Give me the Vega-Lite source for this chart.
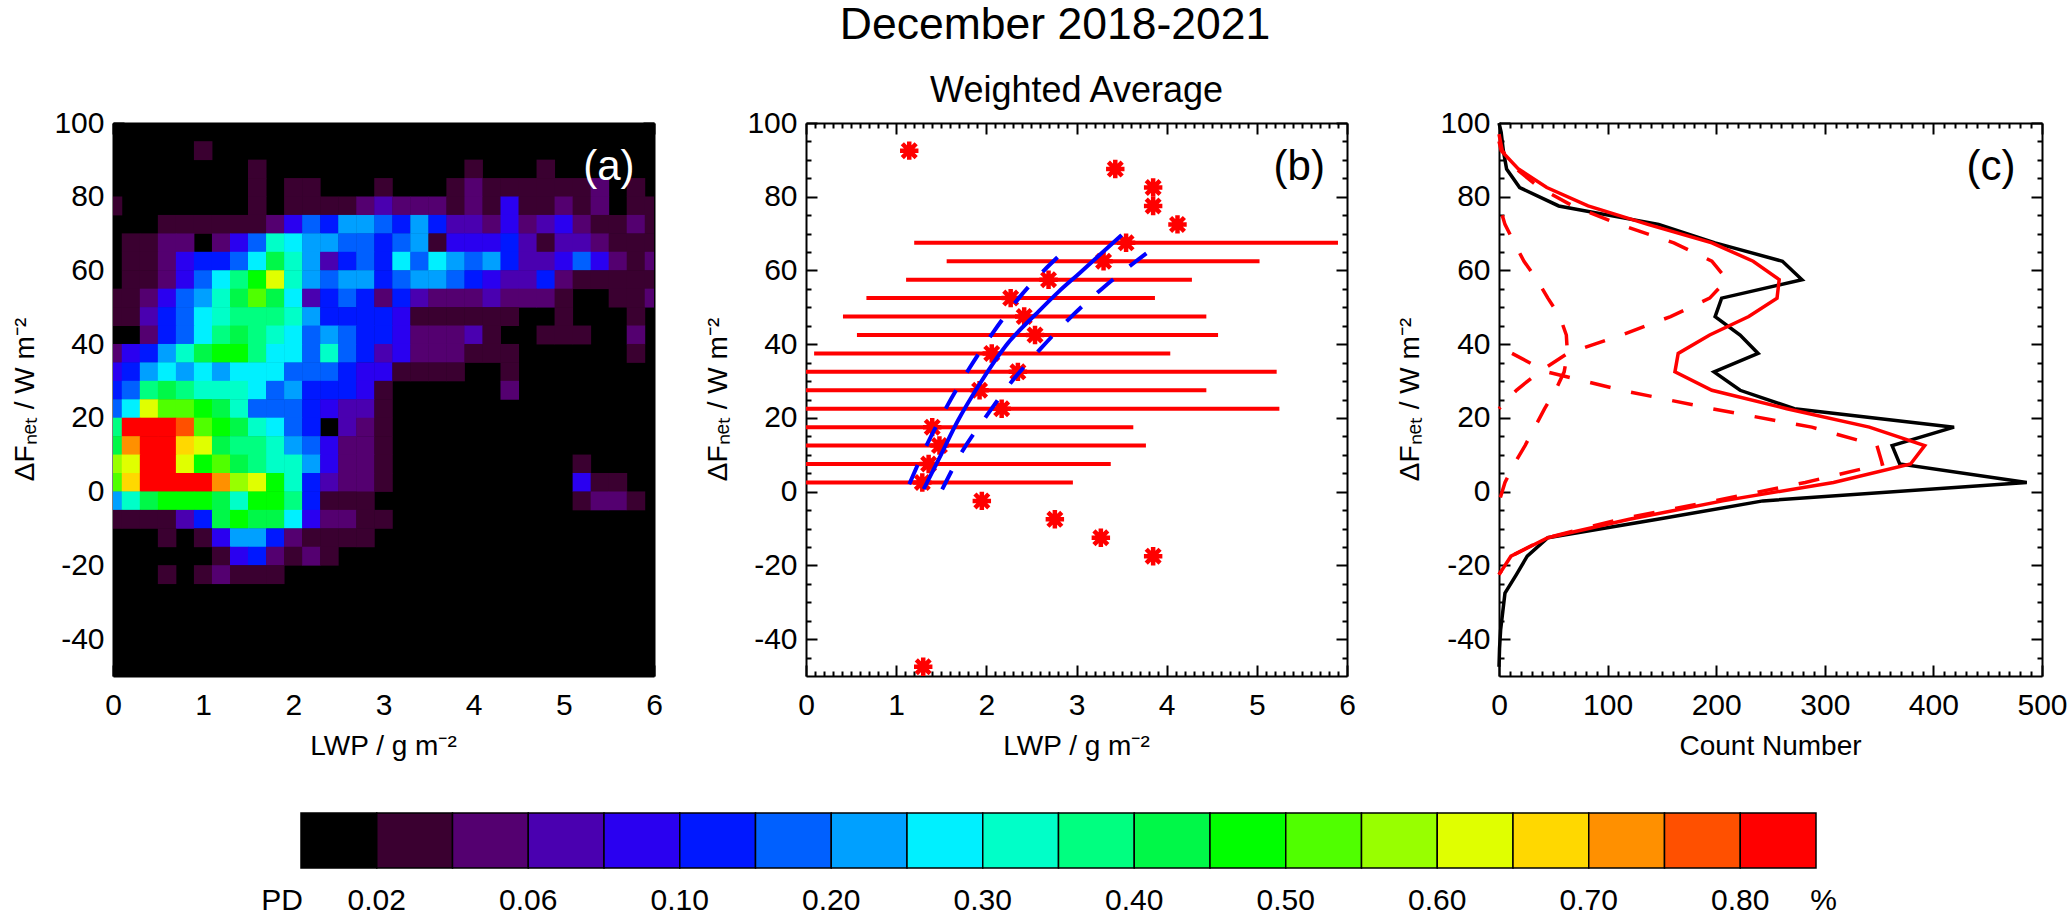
{"$schema":"https://vega.github.io/schema/vega-lite/v6.json","background":"white","padding":{"left":11,"top":2,"right":0,"bottom":47},"bounds":"flush","spacing":690,
"title":{"text":"December 2018-2021","anchor":"middle","dx":16,"offset":25,"font":"Liberation Sans","fontSize":44.5,"fontWeight":"normal","color":"black"},
"config":{"view":{"stroke":null},"font":"Liberation Sans","axis":{"labelFont":"Liberation Sans","titleFont":"Liberation Sans","labelFontSize":30,"titleFontSize":28,"titleFontWeight":"normal","labelColor":"black","titleColor":"black","domainColor":"black","domainWidth":2,"tickColor":"black","tickWidth":2,"grid":false,"zindex":1,"labelOverlap":false,"labelFlush":false,"titleBaseline":"alphabetic"}},
"datasets":{
"cells":[
{"x":1,"y":92.5,"l":1},
{"x":1.6,"y":87.5,"l":1},{"x":4,"y":87.5,"l":1},{"x":4.8,"y":87.5,"l":1},
{"x":1.6,"y":82.5,"l":1},{"x":2,"y":82.5,"l":1},{"x":2.2,"y":82.5,"l":1},{"x":3,"y":82.5,"l":1},{"x":3.8,"y":82.5,"l":1},{"x":4,"y":82.5,"l":2},{"x":4.2,"y":82.5,"l":1},{"x":4.4,"y":82.5,"l":1},{"x":4.6,"y":82.5,"l":1},{"x":4.8,"y":82.5,"l":1},{"x":5,"y":82.5,"l":1},{"x":5.2,"y":82.5,"l":1},{"x":5.4,"y":82.5,"l":2},{"x":5.8,"y":82.5,"l":1},
{"x":0,"y":77.5,"l":1},{"x":1.6,"y":77.5,"l":1},{"x":2,"y":77.5,"l":1},{"x":2.2,"y":77.5,"l":1},{"x":2.4,"y":77.5,"l":1},{"x":2.6,"y":77.5,"l":1},{"x":2.8,"y":77.5,"l":2},{"x":3,"y":77.5,"l":3},{"x":3.2,"y":77.5,"l":2},{"x":3.4,"y":77.5,"l":2},{"x":3.6,"y":77.5,"l":2},{"x":3.8,"y":77.5,"l":1},{"x":4,"y":77.5,"l":2},{"x":4.2,"y":77.5,"l":1},{"x":4.4,"y":77.5,"l":4},{"x":4.6,"y":77.5,"l":1},{"x":4.8,"y":77.5,"l":1},{"x":5,"y":77.5,"l":2},{"x":5.2,"y":77.5,"l":1},{"x":5.4,"y":77.5,"l":2},{"x":5.8,"y":77.5,"l":1},{"x":6,"y":77.5,"l":1},
{"x":0.6,"y":72.5,"l":1},{"x":0.8,"y":72.5,"l":1},{"x":1,"y":72.5,"l":1},{"x":1.2,"y":72.5,"l":1},{"x":1.4,"y":72.5,"l":1},{"x":1.6,"y":72.5,"l":1},{"x":1.8,"y":72.5,"l":2},{"x":2,"y":72.5,"l":4},{"x":2.2,"y":72.5,"l":6},{"x":2.4,"y":72.5,"l":5},{"x":2.6,"y":72.5,"l":7},{"x":2.8,"y":72.5,"l":7},{"x":3,"y":72.5,"l":6},{"x":3.2,"y":72.5,"l":5},{"x":3.4,"y":72.5,"l":7},{"x":3.6,"y":72.5,"l":5},{"x":3.8,"y":72.5,"l":3},{"x":4,"y":72.5,"l":3},{"x":4.2,"y":72.5,"l":2},{"x":4.4,"y":72.5,"l":4},{"x":4.6,"y":72.5,"l":2},{"x":4.8,"y":72.5,"l":3},{"x":5,"y":72.5,"l":4},{"x":5.2,"y":72.5,"l":2},{"x":5.4,"y":72.5,"l":1},{"x":5.6,"y":72.5,"l":1},{"x":5.8,"y":72.5,"l":2},{"x":6,"y":72.5,"l":1},
{"x":0.2,"y":67.5,"l":1},{"x":0.4,"y":67.5,"l":1},{"x":0.6,"y":67.5,"l":2},{"x":0.8,"y":67.5,"l":2},{"x":1.2,"y":67.5,"l":2},{"x":1.4,"y":67.5,"l":4},{"x":1.6,"y":67.5,"l":6},{"x":1.8,"y":67.5,"l":9},{"x":2,"y":67.5,"l":8},{"x":2.2,"y":67.5,"l":7},{"x":2.4,"y":67.5,"l":7},{"x":2.6,"y":67.5,"l":6},{"x":2.8,"y":67.5,"l":6},{"x":3,"y":67.5,"l":5},{"x":3.2,"y":67.5,"l":6},{"x":3.4,"y":67.5,"l":7},{"x":3.6,"y":67.5,"l":1},{"x":3.8,"y":67.5,"l":4},{"x":4,"y":67.5,"l":4},{"x":4.2,"y":67.5,"l":4},{"x":4.4,"y":67.5,"l":5},{"x":4.6,"y":67.5,"l":3},{"x":4.8,"y":67.5,"l":1},{"x":5,"y":67.5,"l":3},{"x":5.2,"y":67.5,"l":3},{"x":5.4,"y":67.5,"l":2},{"x":5.6,"y":67.5,"l":1},{"x":5.8,"y":67.5,"l":1},{"x":6,"y":67.5,"l":1},
{"x":0.2,"y":62.5,"l":1},{"x":0.4,"y":62.5,"l":1},{"x":0.6,"y":62.5,"l":2},{"x":0.8,"y":62.5,"l":4},{"x":1,"y":62.5,"l":5},{"x":1.2,"y":62.5,"l":5},{"x":1.4,"y":62.5,"l":6},{"x":1.6,"y":62.5,"l":8},{"x":1.8,"y":62.5,"l":11},{"x":2,"y":62.5,"l":9},{"x":2.2,"y":62.5,"l":7},{"x":2.4,"y":62.5,"l":3},{"x":2.6,"y":62.5,"l":5},{"x":2.8,"y":62.5,"l":6},{"x":3,"y":62.5,"l":5},{"x":3.2,"y":62.5,"l":8},{"x":3.4,"y":62.5,"l":6},{"x":3.6,"y":62.5,"l":8},{"x":3.8,"y":62.5,"l":7},{"x":4,"y":62.5,"l":6},{"x":4.2,"y":62.5,"l":7},{"x":4.4,"y":62.5,"l":5},{"x":4.6,"y":62.5,"l":3},{"x":4.8,"y":62.5,"l":3},{"x":5,"y":62.5,"l":4},{"x":5.2,"y":62.5,"l":6},{"x":5.4,"y":62.5,"l":4},{"x":5.6,"y":62.5,"l":2},{"x":5.8,"y":62.5,"l":1},{"x":6,"y":62.5,"l":2},
{"x":0.2,"y":57.5,"l":1},{"x":0.4,"y":57.5,"l":1},{"x":0.6,"y":57.5,"l":2},{"x":0.8,"y":57.5,"l":4},{"x":1,"y":57.5,"l":6},{"x":1.2,"y":57.5,"l":8},{"x":1.4,"y":57.5,"l":10},{"x":1.6,"y":57.5,"l":12},{"x":1.8,"y":57.5,"l":15},{"x":2,"y":57.5,"l":9},{"x":2.2,"y":57.5,"l":7},{"x":2.4,"y":57.5,"l":6},{"x":2.6,"y":57.5,"l":7},{"x":2.8,"y":57.5,"l":7},{"x":3,"y":57.5,"l":5},{"x":3.2,"y":57.5,"l":6},{"x":3.4,"y":57.5,"l":7},{"x":3.6,"y":57.5,"l":7},{"x":3.8,"y":57.5,"l":6},{"x":4,"y":57.5,"l":5},{"x":4.2,"y":57.5,"l":4},{"x":4.4,"y":57.5,"l":3},{"x":4.6,"y":57.5,"l":3},{"x":4.8,"y":57.5,"l":5},{"x":5,"y":57.5,"l":2},{"x":5.2,"y":57.5,"l":1},{"x":5.4,"y":57.5,"l":1},{"x":5.6,"y":57.5,"l":1},{"x":5.8,"y":57.5,"l":1},{"x":6,"y":57.5,"l":1},
{"x":0,"y":52.5,"l":1},{"x":0.2,"y":52.5,"l":1},{"x":0.4,"y":52.5,"l":2},{"x":0.6,"y":52.5,"l":4},{"x":0.8,"y":52.5,"l":6},{"x":1,"y":52.5,"l":7},{"x":1.2,"y":52.5,"l":9},{"x":1.4,"y":52.5,"l":11},{"x":1.6,"y":52.5,"l":13},{"x":1.8,"y":52.5,"l":11},{"x":2,"y":52.5,"l":8},{"x":2.2,"y":52.5,"l":3},{"x":2.4,"y":52.5,"l":5},{"x":2.6,"y":52.5,"l":6},{"x":2.8,"y":52.5,"l":5},{"x":3,"y":52.5,"l":2},{"x":3.2,"y":52.5,"l":5},{"x":3.4,"y":52.5,"l":3},{"x":3.6,"y":52.5,"l":2},{"x":3.8,"y":52.5,"l":2},{"x":4,"y":52.5,"l":2},{"x":4.2,"y":52.5,"l":3},{"x":4.4,"y":52.5,"l":2},{"x":4.6,"y":52.5,"l":2},{"x":4.8,"y":52.5,"l":2},{"x":5,"y":52.5,"l":1},{"x":5.6,"y":52.5,"l":1},{"x":5.8,"y":52.5,"l":1},{"x":6,"y":52.5,"l":2},
{"x":0,"y":47.5,"l":1},{"x":0.2,"y":47.5,"l":1},{"x":0.4,"y":47.5,"l":3},{"x":0.6,"y":47.5,"l":5},{"x":0.8,"y":47.5,"l":6},{"x":1,"y":47.5,"l":8},{"x":1.2,"y":47.5,"l":9},{"x":1.4,"y":47.5,"l":10},{"x":1.6,"y":47.5,"l":10},{"x":1.8,"y":47.5,"l":10},{"x":2,"y":47.5,"l":9},{"x":2.2,"y":47.5,"l":7},{"x":2.4,"y":47.5,"l":5},{"x":2.6,"y":47.5,"l":5},{"x":2.8,"y":47.5,"l":5},{"x":3,"y":47.5,"l":5},{"x":3.2,"y":47.5,"l":4},{"x":3.4,"y":47.5,"l":1},{"x":3.6,"y":47.5,"l":1},{"x":3.8,"y":47.5,"l":1},{"x":4,"y":47.5,"l":1},{"x":4.2,"y":47.5,"l":1},{"x":4.4,"y":47.5,"l":1},{"x":5,"y":47.5,"l":1},{"x":5.8,"y":47.5,"l":1},
{"x":0.4,"y":42.5,"l":2},{"x":0.6,"y":42.5,"l":5},{"x":0.8,"y":42.5,"l":6},{"x":1,"y":42.5,"l":8},{"x":1.2,"y":42.5,"l":10},{"x":1.4,"y":42.5,"l":11},{"x":1.6,"y":42.5,"l":10},{"x":1.8,"y":42.5,"l":9},{"x":2,"y":42.5,"l":8},{"x":2.2,"y":42.5,"l":6},{"x":2.4,"y":42.5,"l":7},{"x":2.6,"y":42.5,"l":6},{"x":2.8,"y":42.5,"l":5},{"x":3,"y":42.5,"l":5},{"x":3.2,"y":42.5,"l":4},{"x":3.4,"y":42.5,"l":2},{"x":3.6,"y":42.5,"l":2},{"x":3.8,"y":42.5,"l":2},{"x":4,"y":42.5,"l":3},{"x":4.2,"y":42.5,"l":1},{"x":4.8,"y":42.5,"l":1},{"x":5,"y":42.5,"l":1},{"x":5.2,"y":42.5,"l":1},{"x":5.8,"y":42.5,"l":2},
{"x":0,"y":37.5,"l":2},{"x":0.2,"y":37.5,"l":4},{"x":0.4,"y":37.5,"l":5},{"x":0.6,"y":37.5,"l":7},{"x":0.8,"y":37.5,"l":9},{"x":1,"y":37.5,"l":11},{"x":1.2,"y":37.5,"l":12},{"x":1.4,"y":37.5,"l":12},{"x":1.6,"y":37.5,"l":10},{"x":1.8,"y":37.5,"l":8},{"x":2,"y":37.5,"l":8},{"x":2.2,"y":37.5,"l":6},{"x":2.4,"y":37.5,"l":9},{"x":2.6,"y":37.5,"l":6},{"x":2.8,"y":37.5,"l":5},{"x":3,"y":37.5,"l":3},{"x":3.2,"y":37.5,"l":4},{"x":3.4,"y":37.5,"l":2},{"x":3.6,"y":37.5,"l":2},{"x":3.8,"y":37.5,"l":2},{"x":4,"y":37.5,"l":1},{"x":4.2,"y":37.5,"l":1},{"x":4.4,"y":37.5,"l":1},{"x":5.8,"y":37.5,"l":1},
{"x":0,"y":32.5,"l":4},{"x":0.2,"y":32.5,"l":5},{"x":0.4,"y":32.5,"l":7},{"x":0.6,"y":32.5,"l":8},{"x":0.8,"y":32.5,"l":7},{"x":1,"y":32.5,"l":8},{"x":1.2,"y":32.5,"l":7},{"x":1.4,"y":32.5,"l":8},{"x":1.6,"y":32.5,"l":8},{"x":1.8,"y":32.5,"l":8},{"x":2,"y":32.5,"l":6},{"x":2.2,"y":32.5,"l":6},{"x":2.4,"y":32.5,"l":6},{"x":2.6,"y":32.5,"l":5},{"x":2.8,"y":32.5,"l":4},{"x":3,"y":32.5,"l":4},{"x":3.2,"y":32.5,"l":1},{"x":3.4,"y":32.5,"l":1},{"x":3.6,"y":32.5,"l":1},{"x":3.8,"y":32.5,"l":1},{"x":4.4,"y":32.5,"l":1},
{"x":0,"y":27.5,"l":5},{"x":0.2,"y":27.5,"l":6},{"x":0.4,"y":27.5,"l":10},{"x":0.6,"y":27.5,"l":11},{"x":0.8,"y":27.5,"l":10},{"x":1,"y":27.5,"l":9},{"x":1.2,"y":27.5,"l":9},{"x":1.4,"y":27.5,"l":9},{"x":1.6,"y":27.5,"l":8},{"x":1.8,"y":27.5,"l":6},{"x":2,"y":27.5,"l":7},{"x":2.2,"y":27.5,"l":5},{"x":2.4,"y":27.5,"l":5},{"x":2.6,"y":27.5,"l":5},{"x":2.8,"y":27.5,"l":4},{"x":3,"y":27.5,"l":1},{"x":4.4,"y":27.5,"l":2},
{"x":0,"y":22.5,"l":6},{"x":0.2,"y":22.5,"l":8},{"x":0.4,"y":22.5,"l":15},{"x":0.6,"y":22.5,"l":13},{"x":0.8,"y":22.5,"l":13},{"x":1,"y":22.5,"l":12},{"x":1.2,"y":22.5,"l":11},{"x":1.4,"y":22.5,"l":9},{"x":1.6,"y":22.5,"l":6},{"x":1.8,"y":22.5,"l":6},{"x":2,"y":22.5,"l":6},{"x":2.2,"y":22.5,"l":5},{"x":2.4,"y":22.5,"l":4},{"x":2.6,"y":22.5,"l":3},{"x":2.8,"y":22.5,"l":3},{"x":3,"y":22.5,"l":1},
{"x":0,"y":17.5,"l":10},{"x":0.2,"y":17.5,"l":19},{"x":0.4,"y":17.5,"l":19},{"x":0.6,"y":17.5,"l":19},{"x":0.8,"y":17.5,"l":18},{"x":1,"y":17.5,"l":13},{"x":1.2,"y":17.5,"l":12},{"x":1.4,"y":17.5,"l":11},{"x":1.6,"y":17.5,"l":9},{"x":1.8,"y":17.5,"l":8},{"x":2,"y":17.5,"l":6},{"x":2.2,"y":17.5,"l":5},{"x":2.6,"y":17.5,"l":3},{"x":2.8,"y":17.5,"l":2},{"x":3,"y":17.5,"l":1},
{"x":0,"y":12.5,"l":11},{"x":0.2,"y":12.5,"l":17},{"x":0.4,"y":12.5,"l":19},{"x":0.6,"y":12.5,"l":19},{"x":0.8,"y":12.5,"l":16},{"x":1,"y":12.5,"l":15},{"x":1.2,"y":12.5,"l":11},{"x":1.4,"y":12.5,"l":10},{"x":1.6,"y":12.5,"l":10},{"x":1.8,"y":12.5,"l":9},{"x":2,"y":12.5,"l":7},{"x":2.2,"y":12.5,"l":6},{"x":2.4,"y":12.5,"l":4},{"x":2.6,"y":12.5,"l":2},{"x":2.8,"y":12.5,"l":2},{"x":3,"y":12.5,"l":1},
{"x":0,"y":7.5,"l":14},{"x":0.2,"y":7.5,"l":15},{"x":0.4,"y":7.5,"l":19},{"x":0.6,"y":7.5,"l":19},{"x":0.8,"y":7.5,"l":15},{"x":1,"y":7.5,"l":12},{"x":1.2,"y":7.5,"l":13},{"x":1.4,"y":7.5,"l":11},{"x":1.6,"y":7.5,"l":10},{"x":1.8,"y":7.5,"l":9},{"x":2,"y":7.5,"l":9},{"x":2.2,"y":7.5,"l":7},{"x":2.4,"y":7.5,"l":4},{"x":2.6,"y":7.5,"l":2},{"x":2.8,"y":7.5,"l":2},{"x":3,"y":7.5,"l":1},{"x":5.2,"y":7.5,"l":1},
{"x":0,"y":2.5,"l":13},{"x":0.2,"y":2.5,"l":16},{"x":0.4,"y":2.5,"l":19},{"x":0.6,"y":2.5,"l":19},{"x":0.8,"y":2.5,"l":19},{"x":1,"y":2.5,"l":19},{"x":1.2,"y":2.5,"l":17},{"x":1.4,"y":2.5,"l":14},{"x":1.6,"y":2.5,"l":15},{"x":1.8,"y":2.5,"l":12},{"x":2,"y":2.5,"l":9},{"x":2.2,"y":2.5,"l":5},{"x":2.4,"y":2.5,"l":3},{"x":2.6,"y":2.5,"l":2},{"x":2.8,"y":2.5,"l":2},{"x":3,"y":2.5,"l":1},{"x":5.2,"y":2.5,"l":4},{"x":5.4,"y":2.5,"l":1},{"x":5.6,"y":2.5,"l":1},
{"x":0,"y":-2.5,"l":7},{"x":0.2,"y":-2.5,"l":9},{"x":0.4,"y":-2.5,"l":11},{"x":0.6,"y":-2.5,"l":12},{"x":0.8,"y":-2.5,"l":12},{"x":1,"y":-2.5,"l":12},{"x":1.2,"y":-2.5,"l":11},{"x":1.4,"y":-2.5,"l":9},{"x":1.6,"y":-2.5,"l":12},{"x":1.8,"y":-2.5,"l":12},{"x":2,"y":-2.5,"l":10},{"x":2.2,"y":-2.5,"l":5},{"x":2.4,"y":-2.5,"l":1},{"x":2.6,"y":-2.5,"l":1},{"x":2.8,"y":-2.5,"l":1},{"x":5.2,"y":-2.5,"l":1},{"x":5.4,"y":-2.5,"l":2},{"x":5.6,"y":-2.5,"l":2},{"x":5.8,"y":-2.5,"l":1},
{"x":0,"y":-7.5,"l":1},{"x":0.2,"y":-7.5,"l":1},{"x":0.4,"y":-7.5,"l":1},{"x":0.6,"y":-7.5,"l":1},{"x":0.8,"y":-7.5,"l":3},{"x":1,"y":-7.5,"l":5},{"x":1.2,"y":-7.5,"l":11},{"x":1.4,"y":-7.5,"l":12},{"x":1.6,"y":-7.5,"l":11},{"x":1.8,"y":-7.5,"l":11},{"x":2,"y":-7.5,"l":8},{"x":2.2,"y":-7.5,"l":4},{"x":2.4,"y":-7.5,"l":2},{"x":2.6,"y":-7.5,"l":2},{"x":2.8,"y":-7.5,"l":1},{"x":3,"y":-7.5,"l":1},
{"x":0.6,"y":-12.5,"l":1},{"x":1,"y":-12.5,"l":1},{"x":1.2,"y":-12.5,"l":4},{"x":1.4,"y":-12.5,"l":7},{"x":1.6,"y":-12.5,"l":7},{"x":1.8,"y":-12.5,"l":5},{"x":2,"y":-12.5,"l":2},{"x":2.2,"y":-12.5,"l":1},{"x":2.4,"y":-12.5,"l":1},{"x":2.6,"y":-12.5,"l":1},{"x":2.8,"y":-12.5,"l":1},
{"x":1.2,"y":-17.5,"l":1},{"x":1.4,"y":-17.5,"l":4},{"x":1.6,"y":-17.5,"l":5},{"x":1.8,"y":-17.5,"l":2},{"x":2,"y":-17.5,"l":1},{"x":2.2,"y":-17.5,"l":2},{"x":2.4,"y":-17.5,"l":1},
{"x":0.6,"y":-22.5,"l":1},{"x":1,"y":-22.5,"l":1},{"x":1.2,"y":-22.5,"l":2},{"x":1.4,"y":-22.5,"l":1},{"x":1.6,"y":-22.5,"l":1},{"x":1.8,"y":-22.5,"l":1}
],
"stars":[{"x":1.145,"y":92.5},{"x":3.43,"y":87.5},{"x":3.85,"y":82.5},{"x":3.85,"y":77.5},{"x":4.12,"y":72.5},{"x":3.55,"y":67.5},{"x":3.3,"y":62.5},{"x":2.69,"y":57.5},{"x":2.27,"y":52.5},{"x":2.42,"y":47.5},{"x":2.54,"y":42.5},{"x":2.06,"y":37.5},{"x":2.35,"y":32.5},{"x":1.925,"y":27.5},{"x":2.17,"y":22.5},{"x":1.4,"y":17.5},{"x":1.48,"y":12.5},{"x":1.36,"y":7.5},{"x":1.29,"y":2.5},{"x":1.95,"y":-2.5},{"x":2.76,"y":-7.5},{"x":3.27,"y":-12.5},{"x":3.85,"y":-17.5},{"x":1.3,"y":-47.5}],
"ranges":[{"a":1.2,"b":5.9,"y":67.5},{"a":1.56,"b":5.03,"y":62.5},{"a":1.11,"b":4.28,"y":57.5},{"a":0.67,"b":3.87,"y":52.5},{"a":0.41,"b":4.44,"y":47.5},{"a":0.565,"b":4.57,"y":42.5},{"a":0.09,"b":4.04,"y":37.5},{"a":0,"b":5.22,"y":32.5},{"a":0,"b":4.44,"y":27.5},{"a":0,"b":5.25,"y":22.5},{"a":0,"b":3.63,"y":17.5},{"a":0,"b":3.77,"y":12.5},{"a":0,"b":3.38,"y":7.5},{"a":0,"b":2.96,"y":2.5}],
"fit":[{"o":1,"x":1.305,"y":0.7},{"o":2,"x":1.47,"y":8.7},{"o":3,"x":1.69,"y":19.5},{"o":4,"x":1.91,"y":28.6},{"o":5,"x":2.21,"y":39.4},{"o":6,"x":2.58,"y":48.9},{"o":7,"x":2.8,"y":54.2},{"o":8,"x":3.03,"y":59.2},{"o":9,"x":3.5,"y":69.6}],
"fitlo":[{"o":1,"c":"u","x":1.145,"y":2},{"o":2,"c":"u","x":1.34,"y":12.7},{"o":3,"c":"u","x":1.56,"y":23},{"o":4,"c":"u","x":1.8,"y":33},{"o":5,"c":"u","x":2.07,"y":43},{"o":6,"c":"u","x":2.36,"y":52.5},{"o":7,"c":"u","x":2.68,"y":61},{"o":8,"c":"u","x":2.85,"y":65},
{"o":1,"c":"l","x":1.51,"y":0.6},{"o":2,"c":"l","x":1.73,"y":10.8},{"o":3,"c":"l","x":2,"y":20.5},{"o":4,"c":"l","x":2.28,"y":29.8},{"o":5,"c":"l","x":2.61,"y":39},{"o":6,"c":"l","x":2.94,"y":47.4},{"o":7,"c":"l","x":3.28,"y":55},{"o":8,"c":"l","x":3.66,"y":62.5},{"o":9,"c":"l","x":3.85,"y":66}],
"counts":[
{"s":"obs","c":0,"y":100},{"s":"obs","c":2,"y":97.5},{"s":"obs","c":4,"y":92.5},{"s":"obs","c":7,"y":87.5},{"s":"obs","c":19,"y":82.5},{"s":"obs","c":55,"y":77.5},{"s":"obs","c":147,"y":72.5},{"s":"obs","c":199,"y":67.5},{"s":"obs","c":261,"y":62.5},{"s":"obs","c":279,"y":57.5},{"s":"obs","c":205,"y":52.5},{"s":"obs","c":199,"y":47.5},{"s":"obs","c":222,"y":42.5},{"s":"obs","c":238.6,"y":37.5},{"s":"obs","c":198,"y":32.5},{"s":"obs","c":222,"y":27.5},{"s":"obs","c":272,"y":22.5},{"s":"obs","c":419,"y":17.5},{"s":"obs","c":362,"y":12.5},{"s":"obs","c":369,"y":7.5},{"s":"obs","c":486,"y":2.5},{"s":"obs","c":243,"y":-2.5},{"s":"obs","c":146,"y":-7.5},{"s":"obs","c":45,"y":-12.5},{"s":"obs","c":26,"y":-17.5},{"s":"obs","c":16,"y":-22.5},{"s":"obs","c":5.5,"y":-27.5},{"s":"obs","c":3.5,"y":-32.5},{"s":"obs","c":1.5,"y":-37.5},{"s":"obs","c":0.5,"y":-42.5},{"s":"obs","c":0,"y":-47.5},
{"s":"sum","c":0,"y":95},{"s":"sum","c":2,"y":92.5},{"s":"sum","c":18,"y":87.5},{"s":"sum","c":44,"y":82.5},{"s":"sum","c":82,"y":77.5},{"s":"sum","c":137,"y":72.5},{"s":"sum","c":196,"y":67.5},{"s":"sum","c":234,"y":62.5},{"s":"sum","c":258,"y":57.5},{"s":"sum","c":256,"y":52.5},{"s":"sum","c":230,"y":47.5},{"s":"sum","c":194,"y":42.5},{"s":"sum","c":165,"y":37.5},{"s":"sum","c":162,"y":32.5},{"s":"sum","c":196,"y":27.5},{"s":"sum","c":265,"y":22.5},{"s":"sum","c":341,"y":17.5},{"s":"sum","c":392,"y":12.5},{"s":"sum","c":379,"y":7.5},{"s":"sum","c":308,"y":2.5},{"s":"sum","c":206,"y":-2.5},{"s":"sum","c":120,"y":-7.5},{"s":"sum","c":45,"y":-12.5},{"s":"sum","c":11,"y":-17.5},{"s":"sum","c":0,"y":-22.5}],
"modes":[
{"s":"P","c":0,"y":97},{"s":"P","c":3,"y":92.5},{"s":"P","c":16,"y":87.5},{"s":"P","c":37,"y":82.5},{"s":"P","c":68,"y":77.5},{"s":"P","c":111,"y":72.5},{"s":"P","c":161,"y":67.5},{"s":"P","c":196,"y":62.5},{"s":"P","c":210,"y":57.5},{"s":"P","c":194,"y":52.5},{"s":"P","c":158,"y":47.5},{"s":"P","c":113,"y":42.5},{"s":"P","c":63,"y":37.5},{"s":"P","c":37,"y":32.5},{"s":"P","c":16,"y":27.5},{"s":"P","c":0,"y":22.5},
{"s":"Q","c":3,"y":75},{"s":"Q","c":5.5,"y":72.5},{"s":"Q","c":14,"y":67.5},{"s":"Q","c":23,"y":62.5},{"s":"Q","c":35,"y":57.5},{"s":"Q","c":45,"y":52.5},{"s":"Q","c":56,"y":47.5},{"s":"Q","c":62,"y":42.5},{"s":"Q","c":63,"y":37.5},{"s":"Q","c":60,"y":32.5},{"s":"Q","c":52,"y":27.5},{"s":"Q","c":42,"y":22.5},{"s":"Q","c":33,"y":17.5},{"s":"Q","c":24,"y":12.5},{"s":"Q","c":14,"y":7.5},{"s":"Q","c":5.5,"y":2.5},{"s":"Q","c":0.3,"y":-2.5},{"s":"Q","c":0,"y":-5},
{"s":"R","c":12,"y":37.5},{"s":"R","c":44,"y":32.5},{"s":"R","c":113,"y":27.5},{"s":"R","c":196,"y":22.5},{"s":"R","c":288,"y":17.5},{"s":"R","c":348,"y":12.5},{"s":"R","c":353,"y":7.5},{"s":"R","c":282,"y":2.5},{"s":"R","c":198,"y":-2.5},{"s":"R","c":111,"y":-7.5},{"s":"R","c":44,"y":-12.5},{"s":"R","c":11,"y":-17.5},{"s":"R","c":0,"y":-22.5}],
"bar":[{"a":0,"b":1,"l":0},{"a":1,"b":2,"l":1},{"a":2,"b":3,"l":2},{"a":3,"b":4,"l":3},{"a":4,"b":5,"l":4},{"a":5,"b":6,"l":5},{"a":6,"b":7,"l":6},{"a":7,"b":8,"l":7},{"a":8,"b":9,"l":8},{"a":9,"b":10,"l":9},{"a":10,"b":11,"l":10},{"a":11,"b":12,"l":11},{"a":12,"b":13,"l":12},{"a":13,"b":14,"l":13},{"a":14,"b":15,"l":14},{"a":15,"b":16,"l":15},{"a":16,"b":17,"l":16},{"a":17,"b":18,"l":17},{"a":18,"b":19,"l":18},{"a":19,"b":20,"l":19}],
"barlabels":[{"p":-0.25,"t":"PD"},{"p":1,"t":"0.02"},{"p":3,"t":"0.06"},{"p":5,"t":"0.10"},{"p":7,"t":"0.20"},{"p":9,"t":"0.30"},{"p":11,"t":"0.40"},{"p":13,"t":"0.50"},{"p":15,"t":"0.60"},{"p":17,"t":"0.70"},{"p":19,"t":"0.80"},{"p":20.1,"t":"%"}]
},
"vconcat":[
{"hconcat":[
{"width":541,"height":553,"view":{"fill":"black","stroke":null},"resolve":{"axis":{"x":"independent","y":"independent"}},
"layer":[
{"data":{"name":"cells"},"mark":{"type":"rect","width":18.5,"height":18.9,"clip":true},"encoding":{
"x":{"field":"x","type":"quantitative","scale":{"domain":[0,6],"nice":false,"zero":false},"axis":{"orient":"bottom","values":[0,1,2,3,4,5,6],"tickSize":-11,"labelPadding":25,"title":"LWP / g m⁻²","titleX":270,"titleY":78,"format":"d"}},
"y":{"field":"y","type":"quantitative","scale":{"domain":[-50,100],"nice":false,"zero":false},"axis":{"orient":"left","values":[-40,-20,0,20,40,60,80,100],"tickSize":-11,"labelPadding":20,"title":"ΔFₙₑₜ / W m⁻²","titleX":-80,"titleY":276,"titleAngle":-90,"labelExpr":"''+datum.value"}},
"color":{"field":"l","type":"ordinal","legend":null,"scale":{"domain":[0,1,2,3,4,5,6,7,8,9,10,11,12,13,14,15,16,17,18,19],"range":["#000000","#3a0030","#540070","#4a00b0","#2a00f0","#0018ff","#0060ff","#00a0ff","#00f0ff","#00ffc8","#00ff80","#00f848","#00ff00","#50ff00","#98ff00","#e0ff00","#ffd800","#ff9000","#ff5000","#ff0000"]}}}},
{"data":{"values":[]},"mark":"point","encoding":{"x":{"field":"x","type":"quantitative","axis":{"orient":"bottom","values":[0.1,0.2,0.3,0.4,0.5,0.6,0.7,0.8,0.9,1.1,1.2,1.3,1.4,1.5,1.6,1.7,1.8,1.9,2.1,2.2,2.3,2.4,2.5,2.6,2.7,2.8,2.9,3.1,3.2,3.3,3.4,3.5,3.6,3.7,3.8,3.9,4.1,4.2,4.3,4.4,4.5,4.6,4.7,4.8,4.9,5.1,5.2,5.3,5.4,5.5,5.6,5.7,5.8,5.9],"tickSize":-5,"labels":false,"domain":false,"title":null}},"y":{"field":"y","type":"quantitative","axis":{"orient":"left","values":[-45,-35,-30,-25,-15,-10,-5,5,10,15,25,30,35,45,50,55,65,70,75,85,90,95],"tickSize":-5,"labels":false,"domain":false,"title":null}}}},
{"data":{"values":[]},"mark":"point","encoding":{"x":{"field":"x","type":"quantitative","axis":{"orient":"top","values":[0,1,2,3,4,5,6],"tickSize":-11,"labels":false,"title":null}},"y":{"field":"y","type":"quantitative","axis":{"orient":"right","values":[-40,-20,0,20,40,60,80,100],"tickSize":-11,"labels":false,"title":null}}}},
{"data":{"values":[]},"mark":"point","encoding":{"x":{"field":"x","type":"quantitative","axis":{"orient":"top","values":[0.1,0.2,0.3,0.4,0.5,0.6,0.7,0.8,0.9,1.1,1.2,1.3,1.4,1.5,1.6,1.7,1.8,1.9,2.1,2.2,2.3,2.4,2.5,2.6,2.7,2.8,2.9,3.1,3.2,3.3,3.4,3.5,3.6,3.7,3.8,3.9,4.1,4.2,4.3,4.4,4.5,4.6,4.7,4.8,4.9,5.1,5.2,5.3,5.4,5.5,5.6,5.7,5.8,5.9],"tickSize":-5,"labels":false,"domain":false,"title":null}},"y":{"field":"y","type":"quantitative","axis":{"orient":"right","values":[-45,-35,-30,-25,-15,-10,-5,5,10,15,25,30,35,45,50,55,65,70,75,85,90,95],"tickSize":-5,"labels":false,"domain":false,"title":null}}}},
{"data":{"values":[{"x":5.5,"y":88,"t":"(a)"}]},"mark":{"type":"text","font":"Liberation Sans","fontSize":42,"color":"white","baseline":"middle","align":"center"},"encoding":{"x":{"field":"x","type":"quantitative","axis":null},"y":{"field":"y","type":"quantitative","axis":null},"text":{"field":"t"}}}
]},
{"width":541,"height":553,"title":{"text":"Weighted Average","font":"Liberation Sans","fontSize":36,"fontWeight":"normal","color":"black","offset":-2},"resolve":{"axis":{"x":"independent","y":"independent"}},
"layer":[
{"data":{"name":"ranges"},"mark":{"type":"rule","color":"#ff0000","strokeWidth":4},"encoding":{
"x":{"field":"a","type":"quantitative","scale":{"domain":[0,6],"nice":false,"zero":false},"axis":{"orient":"bottom","values":[0,1,2,3,4,5,6],"tickSize":-11,"labelPadding":25,"title":"LWP / g m⁻²","titleX":270,"titleY":78,"format":"d"}},
"x2":{"field":"b"},
"y":{"field":"y","type":"quantitative","scale":{"domain":[-50,100],"nice":false,"zero":false},"axis":{"orient":"left","values":[-40,-20,0,20,40,60,80,100],"tickSize":-11,"labelPadding":20,"title":"ΔFₙₑₜ / W m⁻²","titleX":-80,"titleY":276,"titleAngle":-90,"labelExpr":"''+datum.value"}}}},
{"data":{"name":"stars"},"mark":{"type":"point","shape":"M-1 0L1 0M0 -1L0 1M-0.75 -0.75L0.75 0.75M-0.75 0.75L0.75 -0.75","size":340,"filled":false,"color":"#ff0000","strokeWidth":4.5,"opacity":1},"encoding":{"x":{"field":"x","type":"quantitative","axis":{"orient":"bottom","values":[0.1,0.2,0.3,0.4,0.5,0.6,0.7,0.8,0.9,1.1,1.2,1.3,1.4,1.5,1.6,1.7,1.8,1.9,2.1,2.2,2.3,2.4,2.5,2.6,2.7,2.8,2.9,3.1,3.2,3.3,3.4,3.5,3.6,3.7,3.8,3.9,4.1,4.2,4.3,4.4,4.5,4.6,4.7,4.8,4.9,5.1,5.2,5.3,5.4,5.5,5.6,5.7,5.8,5.9],"tickSize":-5,"labels":false,"domain":false,"title":null}},"y":{"field":"y","type":"quantitative","axis":{"orient":"left","values":[-45,-35,-30,-25,-15,-10,-5,5,10,15,25,30,35,45,50,55,65,70,75,85,90,95],"tickSize":-5,"labels":false,"domain":false,"title":null}}}},
{"data":{"name":"fit"},"mark":{"type":"line","color":"#0000ff","strokeWidth":4,"interpolate":"monotone"},"encoding":{"order":{"field":"o"},"x":{"field":"x","type":"quantitative","axis":{"orient":"top","values":[0,1,2,3,4,5,6],"tickSize":-11,"labels":false,"title":null}},"y":{"field":"y","type":"quantitative","axis":{"orient":"right","values":[-40,-20,0,20,40,60,80,100],"tickSize":-11,"labels":false,"title":null}}}},
{"data":{"name":"fitlo"},"mark":{"type":"line","color":"#0000ff","strokeWidth":4,"strokeDash":[21,21],"interpolate":"monotone"},"encoding":{"order":{"field":"o"},"detail":{"field":"c"},"x":{"field":"x","type":"quantitative","axis":{"orient":"top","values":[0.1,0.2,0.3,0.4,0.5,0.6,0.7,0.8,0.9,1.1,1.2,1.3,1.4,1.5,1.6,1.7,1.8,1.9,2.1,2.2,2.3,2.4,2.5,2.6,2.7,2.8,2.9,3.1,3.2,3.3,3.4,3.5,3.6,3.7,3.8,3.9,4.1,4.2,4.3,4.4,4.5,4.6,4.7,4.8,4.9,5.1,5.2,5.3,5.4,5.5,5.6,5.7,5.8,5.9],"tickSize":-5,"labels":false,"domain":false,"title":null}},"y":{"field":"y","type":"quantitative","axis":{"orient":"right","values":[-45,-35,-30,-25,-15,-10,-5,5,10,15,25,30,35,45,50,55,65,70,75,85,90,95],"tickSize":-5,"labels":false,"domain":false,"title":null}}}},
{"data":{"values":[{"x":5.47,"y":88,"t":"(b)"}]},"mark":{"type":"text","font":"Liberation Sans","fontSize":42,"color":"black","baseline":"middle","align":"center"},"encoding":{"x":{"field":"x","type":"quantitative","axis":null},"y":{"field":"y","type":"quantitative","axis":null},"text":{"field":"t"}}}
]},
{"width":543,"height":553,"resolve":{"axis":{"x":"independent","y":"independent"}},
"layer":[
{"data":{"name":"counts"},"transform":[{"filter":"datum.s==='obs'"}],"mark":{"type":"line","color":"black","strokeWidth":3.5},"encoding":{"order":{"field":"y","sort":"descending"},
"x":{"field":"c","type":"quantitative","scale":{"domain":[0,500],"nice":false,"zero":false},"axis":{"orient":"bottom","values":[0,100,200,300,400,500],"tickSize":-11,"labelPadding":25,"title":"Count Number","titleX":271,"titleY":78,"format":"d"}},
"y":{"field":"y","type":"quantitative","scale":{"domain":[-50,100],"nice":false,"zero":false},"axis":{"orient":"left","values":[-40,-20,0,20,40,60,80,100],"tickSize":-11,"labelPadding":20,"title":"ΔFₙₑₜ / W m⁻²","titleX":-81,"titleY":276,"titleAngle":-90,"labelExpr":"''+datum.value"}}}},
{"data":{"name":"counts"},"transform":[{"filter":"datum.s==='sum'"}],"mark":{"type":"line","color":"#ff0000","strokeWidth":3.5},"encoding":{"order":{"field":"y","sort":"descending"},
"x":{"field":"c","type":"quantitative","axis":{"orient":"bottom","values":[10,20,30,40,50,60,70,80,90,110,120,130,140,150,160,170,180,190,210,220,230,240,250,260,270,280,290,310,320,330,340,350,360,370,380,390,410,420,430,440,450,460,470,480,490],"tickSize":-5,"labels":false,"domain":false,"title":null}},
"y":{"field":"y","type":"quantitative","axis":{"orient":"left","values":[-45,-35,-30,-25,-15,-10,-5,5,10,15,25,30,35,45,50,55,65,70,75,85,90,95],"tickSize":-5,"labels":false,"domain":false,"title":null}}}},
{"data":{"name":"modes"},"mark":{"type":"line","color":"#ff0000","strokeWidth":3.5,"strokeDash":[21,21]},"encoding":{"order":{"field":"y","sort":"descending"},"detail":{"field":"s"},
"x":{"field":"c","type":"quantitative","axis":{"orient":"top","values":[0,100,200,300,400,500],"tickSize":-11,"labels":false,"title":null}},
"y":{"field":"y","type":"quantitative","axis":{"orient":"right","values":[-40,-20,0,20,40,60,80,100],"tickSize":-11,"labels":false,"title":null}}}},
{"data":{"values":[]},"mark":"point","encoding":{
"x":{"field":"c","type":"quantitative","axis":{"orient":"top","values":[10,20,30,40,50,60,70,80,90,110,120,130,140,150,160,170,180,190,210,220,230,240,250,260,270,280,290,310,320,330,340,350,360,370,380,390,410,420,430,440,450,460,470,480,490],"tickSize":-5,"labels":false,"domain":false,"title":null}},
"y":{"field":"y","type":"quantitative","axis":{"orient":"right","values":[-45,-35,-30,-25,-15,-10,-5,5,10,15,25,30,35,45,50,55,65,70,75,85,90,95],"tickSize":-5,"labels":false,"domain":false,"title":null}}}},
{"data":{"values":[{"c":453,"y":88,"t":"(c)"}]},"mark":{"type":"text","font":"Liberation Sans","fontSize":42,"color":"black","baseline":"middle","align":"center"},"encoding":{"x":{"field":"c","type":"quantitative","axis":null},"y":{"field":"y","type":"quantitative","axis":null},"text":{"field":"t"}}}
]}
],"spacing":152,"bounds":"flush"},
{"hconcat":[
{"width":188,"height":55,"data":{"values":[]},"mark":"point","encoding":{}},
{"width":1515,"height":55,"layer":[
{"data":{"name":"bar"},"mark":{"type":"rect","stroke":"black","strokeWidth":1.5},"encoding":{"x":{"field":"a","type":"quantitative","scale":{"domain":[0,20],"nice":false,"zero":false},"axis":null},"x2":{"field":"b"},
"color":{"field":"l","type":"ordinal","legend":null,"scale":{"domain":[0,1,2,3,4,5,6,7,8,9,10,11,12,13,14,15,16,17,18,19],"range":["#000000","#3a0030","#540070","#4a00b0","#2a00f0","#0018ff","#0060ff","#00a0ff","#00f0ff","#00ffc8","#00ff80","#00f848","#00ff00","#50ff00","#98ff00","#e0ff00","#ffd800","#ff9000","#ff5000","#ff0000"]}}}},
{"data":{"name":"barlabels"},"mark":{"type":"text","fontSize":30,"color":"black","baseline":"top","dy":18,"font":"Liberation Sans"},"encoding":{"x":{"field":"p","type":"quantitative","axis":null},"y":{"value":55},"text":{"field":"t"}}}
]}
],"spacing":0,"bounds":"flush"}
]}
